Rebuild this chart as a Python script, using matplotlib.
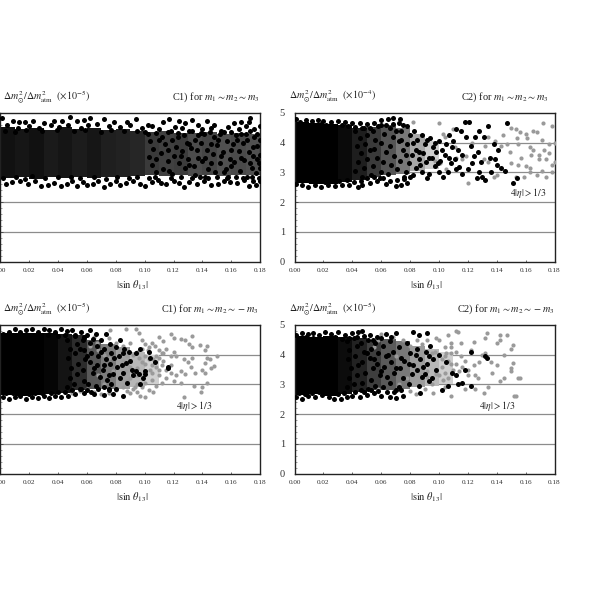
import numpy as np
import matplotlib
matplotlib.use("Agg")
import matplotlib.pyplot as plt

plt.rcParams['font.family'] = ['Liberation Serif', 'DejaVu Serif']
plt.rcParams['mathtext.fontset'] = 'stix'

# Points are (sin theta13 * 1000, ratio * 100).
# Where the original dots merge into a solid mass they cannot be read one by one;
# those zones are drawn as bands (x_start, x_end, low, high, shade).
c1_black = [(1,483),(9,472),(13,469),(17,469),(23,472),(30,466),(37,472),(43,472),(48,485),(53,472),(58,478),(62,483),(72,480),(79,469),(88,469),(94,480),(102,461),(113,469),(117,480),(124,472),(128,466),(133,475),(143,472),(148,461),(162,466),(167,469),(173,483),(172,469),(180,455),
(14,270),(28,253),(42,253),(53,255),(60,258),(72,251),(83,258),(100,255),(111,263),(127,251),(146,258),(155,270),(172,255),(177,258),(180,270),
(4,262),(8,268),(19,262),(24,270),(33,258),(37,265),(46,260),(50,272),(57,268),(64,262),(68,270),(76,262),(80,270),(87,265),(92,272),(97,262),(105,268),(109,275),(115,262),(120,270),(124,263),(131,268),(136,262),(141,272),(151,262),(159,268),(164,263),(169,275),(175,270),
(5,458),(12,450),(20,455),(27,448),(35,458),(41,452),(47,460),(56,450),(61,458),(67,462),(75,455),(83,452),(90,458),(98,448),(105,455),(110,445),(121,452),(126,448),(137,458),(140,445),(146,450),(153,440),(158,452),(165,446),(170,455),(176,445),
(2,280),(11,285),(17,278),(22,288),(31,280),(40,284),(49,286),(55,280),(65,284),(73,278),(81,286),(89,280),(95,286),(103,280),(107,285),(118,282),(125,286),(133,280),(138,286),(144,282),(150,284),(157,280),(163,286),(168,282),(174,284),(179,280),
(3,440),(10,436),(18,442),(29,438),(39,442),(51,438),(59,442),(70,436),(77,442),(86,438),(95,440),(100,436),(108,432),(116,436),(123,434),(131,438),(139,432),(145,436),(152,428),(160,436),(167,430),(173,438),(178,430),
(102,430),(104,405),(106,380),(103,352),(105,325),(108,300),(112,420),(114,395),(111,365),(116,340),(113,312),(118,440),(119,410),(122,385),(120,355),(124,330),(119,295),(127,425),(129,398),(126,372),(130,345),(128,315),(133,440),(135,410),(132,382),(137,350),(134,322),(135,290),(141,430),(139,400),(143,375),(140,340),(144,310),(142,285),(148,420),(150,392),(147,362),(152,330),(149,300),(155,435),(157,405),(154,370),(159,345),(156,312),(158,285),(163,425),(161,395),(165,372),(162,335),(166,305),(170,430),(168,400),(172,370),(169,342),(174,315),(171,285),(176,420),(178,390),(175,355),(179,330),(177,298),(180,410),(180,360),(180,315),
(108,345),(110,410),(116,375),(117,305),(123,420),(125,355),(131,395),(131,325),(137,425),(136,375),(142,350),(146,395),(146,330),(151,410),(153,355),(155,300),(160,375),(160,320),(164,410),(167,350),(171,410),(173,330),(175,385),(178,345)]
c1_gray = []
c1_bands = [(0,10,280,452,'#111111'),(10,20,283,446,'#161616'),(20,30,278,450,'#111111'),(30,40,284,444,'#1a1a1a'),(40,50,280,452,'#151515'),(50,60,286,446,'#1c1c1c'),(60,70,280,450,'#161616'),(70,80,286,444,'#1f1f1f'),(80,90,284,446,'#222222'),(90,100,288,440,'#262626'),(100,110,290,436,'#3a3a3a'),(110,120,288,440,'#404040'),(120,130,292,434,'#3c3c3c'),(130,140,288,432,'#4c4c4c'),(140,150,292,436,'#454545'),(150,160,288,430,'#505050'),(160,170,292,434,'#4a4a4a'),(170,180,290,428,'#505050')]

c2_black = [(1,480),(4,470),(8,476),(12,472),(16,478),(20,473),(25,470),(30,474),(35,470),(40,468),(45,465),(50,462),(55,468),(60,475),(65,480),(68,482),(73,480),
(1,262),(5,258),(9,252),(14,256),(18,250),(23,258),(28,253),(33,256),(38,258),(44,252),(47,258),(52,265),(57,270),(63,262),(70,255),(74,258),(78,265),
(3,275),(11,270),(16,272),(21,268),(26,272),(31,270),(36,274),(41,266),(46,272),(50,280),(55,285),(61,280),(66,272),(71,275),(76,278),(80,285),
(5,462),(10,460),(18,462),(22,458),(27,456),(33,460),(37,456),(42,452),(47,448),(52,450),(58,455),(63,458),(68,462),(75,460),
(42,440),(45,415),(43,390),(46,365),(44,335),(42,305),(48,450),(50,425),(49,395),(52,375),(50,345),(48,315),(47,285),(54,440),(56,410),(55,380),(57,350),(54,320),(53,290),(60,460),(62,430),(60,400),(63,370),(61,335),(60,300),(59,280),(66,450),(68,420),(66,390),(69,355),(67,325),(65,295),(72,465),(74,440),(72,405),(75,375),(73,340),(71,310),(76,285),(78,455),(80,425),(78,395),(81,360),(79,330),(77,300),(83,440),(85,410),(84,375),(86,345),(84,315),(82,290),(88,425),(90,395),(89,365),(91,335),(88,300),(92,280),(94,415),(96,385),(95,350),(97,320),(93,295),(100,405),(98,370),(101,340),(100,300),(103,285),(105,395),(107,425),(104,360),(108,330),(106,300),(112,445),(115,440),(110,405),(113,375),(111,345),(114,318),(116,295),(118,470),(121,470),(119,420),(122,390),(124,355),(120,310),(126,280),(128,440),(131,420),(127,370),(129,335),(130,285),(132,275),(134,455),(135,350),(138,395),(141,375),(140,325),(147,465),(146,305),(151,265),(154,282),(136,300),(139,345),(143,315),
(70,440),(74,410),(77,360),(82,400),(86,370),(87,325),(92,410),(93,350),(97,400),(99,330),(102,375),(107,350),(109,385),(112,310),(116,360),(123,330),(125,420),(128,300)]
c2_gray = [(82,470),(100,468),(110,445),(103,430),(105,395),(111,385),(112,350),(116,345),(97,340),(101,330),(105,310),(120,265),(138,285),(140,290),(147,467),(150,450),(153,445),(156,435),(160,430),(172,467),(178,455),(165,440),(168,435),(154,415),(155,395),(161,415),(163,385),(165,375),(169,360),(173,375),(176,397),(180,400),(174,345),(169,345),(164,360),(171,410),(178,325),(160,320),(163,315),(155,325),(149,370),(147,395),(143,390),(134,335),(131,345),(132,390),(139,405),(144,425),(134,420),(119,355),(123,400),(104,420),(168,290),(163,300),(174,285),(178,300),(153,285),(159,285),(146,305),(150,330),(157,350),(176,365),(180,335),(171,305)]
c2_bands = [(0,10,265,470,'#000000'),(10,20,262,465,'#000000'),(20,30,262,462,'#000000'),(30,40,268,460,'#0a0a0a'),(40,50,275,450,'#1e1e1e'),(50,60,285,452,'#3a3a3a'),(60,70,290,458,'#555555'),(70,80,295,450,'#787878'),(80,90,305,430,'#a8a8a8'),(90,100,310,405,'#cdcdcd')]

c3_black = [(2,470),(6,478),(10,485),(14,478),(18,482),(22,486),(26,478),(30,488),(34,483),(38,478),(42,485),(46,480),(50,484),(56,478),(62,484),(66,470),
(2,258),(6,250),(10,256),(14,260),(18,252),(22,258),(26,254),(30,260),(34,255),(38,262),(42,256),(47,262),(52,268),(58,272),(65,268),(72,265),(78,268),(85,262),
(4,272),(9,270),(13,274),(20,268),(24,272),(29,270),(35,272),(40,274),(45,276),(50,282),(55,286),(60,280),(68,284),(75,285),
(4,462),(8,466),(15,462),(20,466),(28,464),(33,466),(40,462),(45,465),(52,462),(58,458),(64,452),
(46,450),(48,420),(47,390),(49,355),(48,320),(46,290),(52,465),(53,435),(52,405),(54,370),(53,335),(51,300),(57,450),(58,415),(59,385),(57,350),(58,310),(56,285),(62,440),(63,405),(62,375),(64,340),(61,300),(63,275),(67,430),(68,395),(67,365),(69,325),(66,295),(72,420),(73,385),(71,350),(74,315),(72,290),(76,435),(77,405),(76,370),(78,335),(77,300),(80,425),(82,395),(81,360),(83,320),(80,285),(85,405),(87,372),(85,340),(88,305),(83,450),(89,410),(91,350),(92,330),(94,345),(96,335),(100,345),(97,300),(94,405),(97,420),(103,408),(104,390),(116,355),(116,360),(107,375),(99,320),(100,335),(73,470),(60,465),(70,450),(90,380),(75,280),
(55,420),(60,395),(65,355),(70,410),(72,365),(75,330),(79,390),(84,365),(86,420)]
c3_gray = [(76,483),(87,487),(94,485),(96,472),(98,450),(105,440),(110,458),(113,445),(118,470),(120,455),(125,452),(128,450),(133,462),(131,437),(133,425),(138,432),(143,428),(142,415),(150,396),(143,390),(148,362),(142,372),(140,350),(142,340),(143,306),(140,290),(139,275),(134,295),(132,360),(130,375),(127,385),(133,390),(122,395),(120,410),(115,420),(110,415),(107,430),(103,425),(100,435),(98,420),(95,410),(92,400),(88,395),(85,380),(83,420),(80,440),(75,455),(70,450),(67,440),(65,460),(90,360),(95,355),(100,345),(105,340),(110,330),(115,320),(120,310),(125,305),(127,258),(125,345),(118,365),(113,380),(108,395),(103,385),(98,375),(93,335),(88,310),(92,285),(97,262),(100,258),(95,275),(103,282),(108,295),(112,305),(100,305),(105,315),(95,300),(85,290),(80,280),(75,272),(70,268),(65,275),(60,285),(55,278),(50,272),(72,300),(68,330),(78,345),(72,400),(68,415),(62,430),(85,430),(90,270),(88,278),(93,292),(98,290),(106,275),(110,350),(105,365),(100,395),(96,390),(112,405),(118,340),(122,330),(128,335),(135,340),(145,385),(146,355),
(100,370),(104,350),(108,360),(112,365),(106,385),(110,390),(115,350),(113,405),(118,395),(102,415),(90,320),(95,330),(87,345),(80,360),(75,390),(82,410),(90,440)]
c3_bands = [(0,10,265,472,'#000000'),(10,20,262,472,'#000000'),(20,30,264,474,'#000000'),(30,40,266,472,'#050505'),(40,50,272,470,'#141414'),(50,60,280,466,'#2c2c2c'),(60,70,285,450,'#585858'),(70,80,285,435,'#7c7c7c'),(80,90,285,425,'#a0a0a0'),(90,100,290,410,'#b8b8b8'),(100,110,300,400,'#d0d0d0')]

c4_black = [(1,465),(5,472),(9,470),(13,473),(17,466),(21,478),(25,470),(30,475),(35,468),(40,472),(44,477),(47,480),(52,465),(57,458),(63,470),(70,472),(82,478),(86,468),(92,472),
(1,258),(5,252),(9,262),(14,256),(19,264),(24,258),(27,250),(32,252),(36,258),(40,262),(45,256),(50,264),(55,270),(60,262),(66,258),(70,255),(75,262),(87,270),
(3,272),(7,268),(12,270),(17,274),(22,270),(30,268),(34,272),(42,274),(48,276),(53,282),(58,278),(64,274),(69,276),(74,280),
(3,452),(8,458),(13,456),(18,452),(24,456),(28,460),(33,452),(38,456),(43,460),(48,462),(54,450),(60,456),(67,458),
(36,445),(38,415),(37,385),(39,355),(38,320),(36,290),(41,455),(43,430),(42,395),(44,365),(43,330),(41,300),(46,440),(48,410),(47,375),(49,340),(47,305),(46,280),(51,450),(53,420),(52,390),(54,355),(53,315),(51,285),(56,440),(58,405),(57,370),(59,330),(56,295),(61,430),(63,395),(62,360),(64,325),(61,290),(66,445),(68,410),(67,375),(69,340),(66,305),(70,280),(72,425),(74,390),(73,355),(75,320),(72,290),(78,440),(80,405),(79,370),(81,335),(79,300),(85,420),(87,385),(85,350),(88,325),(86,295),(91,410),(92,370),(90,335),(93,310),(96,385),(98,350),(95,320),(105,375),(109,340),(106,295),(112,330),(113,300),(102,280),(116,305),(122,295),(132,395),(133,390),(118,350),(122,410),(100,400),(94,430),
(50,405),(55,385),(60,345),(65,400),(70,355),(76,380),(82,365),(84,400),(89,360),(93,395)]
c4_gray = [(133,472),(142,466),(147,468),(142,449),(132,455),(124,444),(122,415),(151,432),(150,420),(140,438),(132,405),(128,375),(140,365),(151,372),(150,345),(145,322),(155,320),(153,260),(152,262),(134,290),(131,270),(127,320),(137,340),(124,365),(118,380),(115,395),(120,350),(125,330),(112,410),(108,440),(112,480),(113,475),(106,465),(100,450),(104,425),(108,405),(104,395),(108,370),(104,340),(106,320),(110,350),(102,360),(98,335),(95,300),(92,345),(88,355),(85,395),(80,430),(75,450),(68,460),(60,470),(58,450),(55,425),(70,395),(82,360),(78,320),(72,300),(64,275),(58,285),(90,285),(84,268),(80,278),(96,272),(108,262),(118,285),(125,285),(104,290),(98,455),(92,450),(88,435),(115,440),(108,425),(150,355),(156,320),(142,310),(136,375),(130,400),(145,400),(116,360),
(102,385),(105,405),(106,380),(103,315),(100,330),(97,410),(112,370),(120,330),(114,345),(95,405),(85,450),(92,325)]
c4_bands = [(0,10,265,462,'#000000'),(10,20,266,460,'#000000'),(20,30,262,462,'#000000'),(30,40,268,458,'#0c0c0c'),(40,50,274,455,'#222222'),(50,60,282,450,'#3e3e3e'),(60,70,280,452,'#5a5a5a'),(70,80,285,445,'#787878'),(80,90,290,430,'#9c9c9c'),(90,100,295,420,'#b8b8b8'),(100,110,300,410,'#cfcfcf')]

x_ticks = [0.00,0.02,0.04,0.06,0.08,0.10,0.12,0.14,0.16,0.18]
x_tick_labels = ['0.00','0.02','0.04','0.06','0.08','0.10','0.12','0.14','0.16','0.18']
y_ticks = [0,1,2,3,4,5]
y_minor = [0.2*i for i in range(26)]
h_lines = [1,2,3,4]

W, H = 598, 609
fig = plt.figure(figsize=(W/100, H/100), dpi=100)

panels = [
 (0.2, 113, False, c1_black, c1_gray, c1_bands, r'$\Delta m^2_{\odot}/\Delta m^2_{\rm atm}\ \ (\times 10^{-5})$', r'C1) for $m_1\sim m_2\sim m_3$', None, 3, 172),
 (294.5, 113, True, c2_black, c2_gray, c2_bands, r'$\Delta m^2_{\odot}/\Delta m^2_{\rm atm}\ \ (\times 10^{-4})$', r'C2) for $m_1\sim m_2\sim m_3$', (528, 193), 289, 461),
 (0.2, 325, False, c3_black, c3_gray, c3_bands, r'$\Delta m^2_{\odot}/\Delta m^2_{\rm atm}\ \ (\times 10^{-5})$', r'C1) for $m_1\sim m_2\sim -m_3$', (194, 406), 3, 161),
 (294.5, 325, True, c4_black, c4_gray, c4_bands, r'$\Delta m^2_{\odot}/\Delta m^2_{\rm atm}\ \ (\times 10^{-5})$', r'C2) for $m_1\sim m_2\sim -m_3$', (497, 406), 289, 457),
]

for left, top, show_y, black, gray, bands, lab_l, lab_r, note, lab_x, right_x in panels:
    ax = fig.add_axes([left/W, 1-(top+148.5)/H, 260/W, 148.5/H])
    ax.set_xlim(0, 0.18)
    ax.set_ylim(0, 5)
    for y in h_lines:
        ax.axhline(y, color='#8c8c8c', lw=0.9, zorder=1)
    for x0, x1, lo, hi, shade in bands:
        ax.fill_between([x0/1000, x1/1000], lo/100, hi/100, color=shade, lw=0, zorder=2)
    if gray:
        g = np.array(gray)
        ax.scatter(g[:,0]/1000, g[:,1]/100, s=9, color='#9a9a9a', lw=0, zorder=3)
    b = np.array(black)
    ax.scatter(b[:,0]/1000, b[:,1]/100, s=13, color='black', lw=0, zorder=4)
    for s in ax.spines.values():
        s.set_linewidth(1.0)
        s.set_color('#222222')
    ax.set_xticks(x_ticks)
    ax.set_xticklabels(x_tick_labels)
    ax.set_yticks(y_ticks)
    ax.set_yticks(y_minor, minor=True)
    ax.tick_params(axis='x', direction='in', length=1.5, width=0.5, labelsize=5.2, pad=5, colors='#333333')
    ax.tick_params(axis='y', which='major', direction='in', length=2, width=0.5, labelsize=7.5, pad=7, colors='#333333', labelleft=show_y)
    ax.tick_params(axis='y', which='minor', direction='in', length=1.5, width=0.4, colors='#555555')
    ctr = left + 132
    fig.text(ctr/W, 1-(top+172)/H, r'$|\sin\,\theta_{13}|$', ha='center', va='center', fontsize=7.5, color='#222222')
    fig.text(lab_x/W, 1-(top-16)/H, lab_l, ha='left', va='center', fontsize=7.2, color='#222222')
    fig.text(right_x/W, 1-(top-16)/H, lab_r, ha='left', va='center', fontsize=7.4, color='#222222')
    if note:
        fig.text(note[0]/W, 1-note[1]/H, r'$4|\eta|>1/3$', ha='center', va='center', fontsize=7, color='#222222')

fig.savefig('out.png', dpi=100)
